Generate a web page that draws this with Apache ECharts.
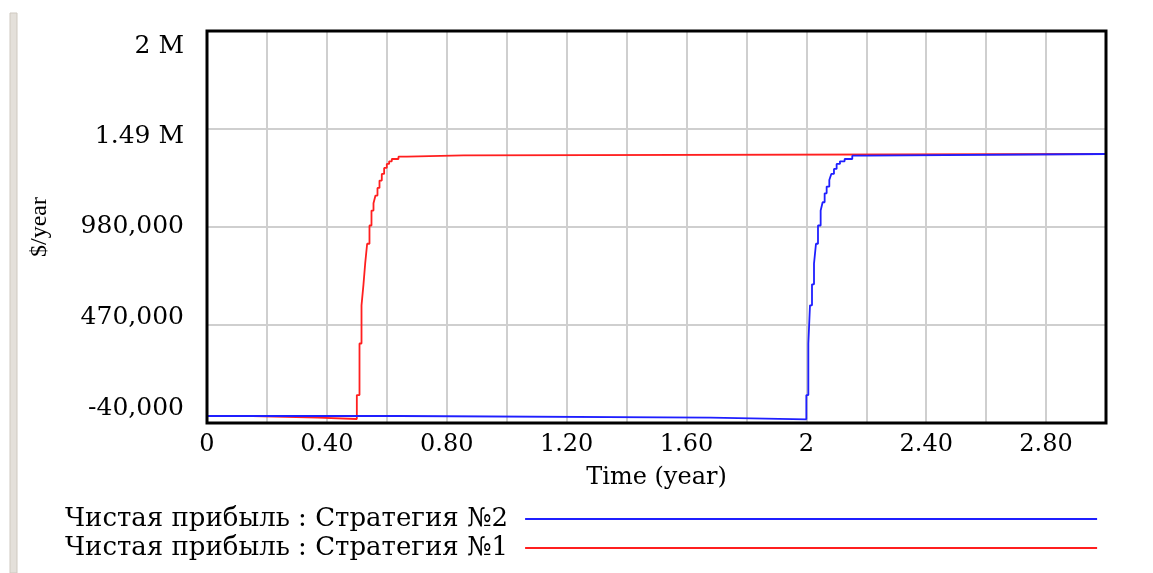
<!DOCTYPE html>
<html>
<head>
<meta charset="utf-8">
<script src="https://cdn.jsdelivr.net/npm/echarts@6/dist/echarts.min.js"></script>
<style>
  html, body { margin: 0; padding: 0; background: #fff; }
  #net-profit { width: 1153px; height: 573px; }
</style>
</head>
<body>
<div id="net-profit"></div>
<script>
// Чистая прибыль, $/year (stepwise output)
var strategy1Time = [0, 0.152, 0.37, 0.5, 0.5089, 0.5156, 0.5222, 0.5278, 0.5344, 0.5422, 0.5489,
  0.5556, 0.5622, 0.5689, 0.5756, 0.5833, 0.5911, 0.6, 0.6078, 0.6167, 0.6389, 0.6667, 0.8556, 3];
var strategy1Value = [-3700, -12000, -19200, 105300, 373700, 572500, 681500, 789000, 892800, 987800, 1065600,
  1103500, 1143500, 1183500, 1221400, 1256000, 1287300, 1308000, 1321600, 1334000, 1346000, 1352700, 1360000, 1360000];

var strategy2Time = [0, 0.643, 1.68, 2.0, 2.0067, 2.0122, 2.0189, 2.0256, 2.0322, 2.0389, 2.0478,
  2.0544, 2.0611, 2.0678, 2.0767, 2.0833, 2.0922, 2.1011, 2.1122, 2.1278, 2.1533, 2.1978, 3];
var strategy2Value = [-3700, -12500, -20800, 105300, 373700, 572500, 681500, 789000, 892800, 987800, 1065600,
  1108700, 1155500, 1190200, 1225000, 1256000, 1282000, 1308000, 1321600, 1334000, 1351000, 1360000, 1360000];

var seriesNames = ['Чистая прибыль : Стратегия №2', 'Чистая прибыль : Стратегия №1'];

// x ticks every 0.2, label on every second one
var xTickLabels = ['0', '', '0.40', '', '0.80', '', '1.20', '', '1.60', '', '2', '', '2.40', '', '2.80', ''];
// y ticks: -40,000 .. 2 M, step 510,000
var yTickLabels = ['-40,000', '470,000', '980,000', '1.49 M', '2 M'];
var yMin = -40000, yMax = 2000000;

var FONT = "'DejaVu Serif', serif";
var LABEL = { fontFamily: FONT, fontSize: 24, color: '#000' };
var YLABEL = { fontFamily: FONT, fontSize: 25, color: '#000' };

function pairs(t, v) {
  var out = [];
  for (var i = 0; i < t.length; i++) out.push([t[i], v[i]]);
  return out;
}

function shifted(pad) {
  return Object.assign({ padding: pad }, YLABEL);
}

var myChart = echarts.init(document.getElementById('net-profit'));
myChart.setOption({
  animation: false,
  backgroundColor: '#fff',
  grid: { left: 207, top: 31, width: 899, height: 392, containLabel: false, outerBoundsMode: 'none' },
  xAxis: {
    type: 'value',
    min: 0,
    max: 3,
    interval: 0.2,
    name: 'Time (year)',
    nameLocation: 'middle',
    nameGap: 43,
    nameTextStyle: LABEL,
    axisLine: { show: false },
    axisTick: { show: false },
    axisLabel: {
      margin: 10,
      fontFamily: FONT,
      fontSize: 24,
      color: '#000',
      formatter: function (v) { return xTickLabels[Math.round(v / 0.2)] || ''; }
    },
    splitLine: { show: true, lineStyle: { color: '#cfcfcf', width: 2 } }
  },
  yAxis: [
    { type: 'value', min: yMin, max: yMax, show: false },
    {
      type: 'value',
      min: 0,
      max: 4,
      interval: 1,
      position: 'left',
      name: '$/year',
      nameLocation: 'middle',
      nameRotate: 90,
      nameGap: 155,
      nameTextStyle: { fontFamily: "'Liberation Serif', serif", fontSize: 24, color: '#000' },
      axisLine: { show: false },
      axisTick: { show: false },
      splitLine: { show: true, lineStyle: { color: '#cfcfcf', width: 2 } },
      axisLabel: {
        margin: 23,
        fontFamily: FONT,
        fontSize: 25,
        color: '#000',
        formatter: function (v) {
          var i = Math.round(v);
          return '{s' + i + '|' + yTickLabels[i] + '}';
        },
        // labels sit a little off their grid lines, as in the source plot
        rich: {
          s0: shifted([5, 0, 35, 0]),
          s1: shifted([12, 0, 28, 0]),
          s2: shifted([19, 0, 21, 0]),
          s3: shifted([27, 0, 13, 0]),
          s4: shifted([35, 0, 5, 0])
        }
      }
    }
  ],
  legend: {
    data: [seriesNames[0], seriesNames[1]],
    orient: 'vertical',
    left: 65,
    top: 506,
    padding: 0,
    align: 'right',
    icon: 'rect',
    itemWidth: 572,
    itemHeight: 2,
    itemGap: 3,
    selectedMode: false,
    formatter: '{t|{name}}',
    textStyle: {
      fontFamily: FONT, fontSize: 26, color: '#000',
      rich: { t: { fontFamily: FONT, fontSize: 26, color: '#000', padding: [0, 12, 0, 0] } }
    }
  },
  series: [
    {
      name: seriesNames[1],
      type: 'line',
      step: 'end',
      showSymbol: false,
      yAxisIndex: 0,
      data: pairs(strategy1Time, strategy1Value),
      itemStyle: { color: '#ff1f1f' },
      lineStyle: { color: '#ff1f1f', width: 1.8 }
    },
    {
      name: seriesNames[0],
      type: 'line',
      step: 'end',
      showSymbol: false,
      yAxisIndex: 0,
      data: pairs(strategy2Time, strategy2Value),
      itemStyle: { color: '#1f1fff' },
      lineStyle: { color: '#1f1fff', width: 1.8 }
    }
  ],
  graphic: [
    // plot frame
    { type: 'rect', z: 100, shape: { x: 207, y: 31, width: 899, height: 392 },
      style: { fill: null, stroke: '#000', lineWidth: 3 } },
    // page edge on the left
    { type: 'rect', z: 100, shape: { x: 10, y: 13, width: 7, height: 560 },
      style: { fill: '#e4e0da', stroke: '#cfc9c0', lineWidth: 1 } }
  ]
});
window.onresize = function () {
  myChart.resize();
};
</script>
</body>
</html>
